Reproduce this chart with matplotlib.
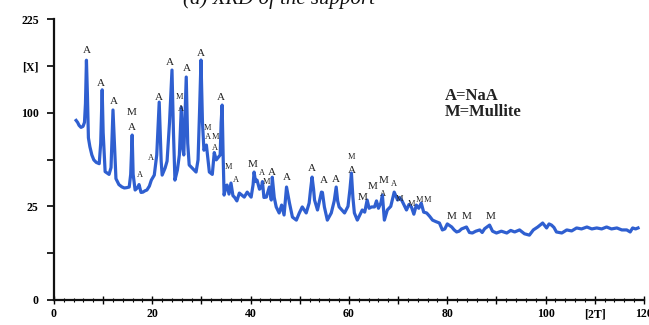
import numpy as np
from matplotlib import pyplot as plt

# --- data (2theta in degrees, intensity in counts) ---
two_theta = [
    4.5, 4.8, 5.1, 5.5, 5.9, 6.2, 6.4, 6.6, 6.8, 7.0, 7.3, 7.7, 8.1, 8.6, 9.2, 9.5, 9.8, 10.0,
    10.4, 10.8, 11.2, 11.6, 12.0, 12.3, 12.6, 13.2, 13.8, 14.3, 14.8, 15.3, 15.6, 15.9, 16.1,
    16.5, 17.0, 17.3, 17.7, 18.1, 18.5, 18.9, 19.4, 19.8, 20.4, 20.9, 21.4, 21.8, 22.0, 22.6,
    23.0, 23.5, 24.0, 24.3, 24.6, 25.1, 25.5, 25.9, 26.2, 26.4, 26.9, 27.2, 27.5, 28.1, 28.9,
    29.3, 29.6, 29.9, 30.2, 30.5, 31.0, 31.6, 32.2, 32.6, 33.0, 33.4, 33.8, 34.0, 34.2, 34.4,
    34.6, 35.0, 35.2, 35.6, 36.0, 36.4, 36.7, 37.2, 37.7, 38.7, 39.3, 40.1, 40.5, 40.7, 41.0,
    41.3, 41.8, 42.2, 42.4, 42.7, 43.2, 43.8, 44.2, 44.4, 44.8, 45.2, 45.8, 46.3, 46.8, 47.3,
    47.9, 48.5, 49.3, 49.9, 50.5, 51.3, 51.9, 52.2, 52.5, 52.8, 53.0, 53.6, 54.0, 54.4, 54.6,
    55.0, 55.6, 56.4, 57.0, 57.4, 57.7, 58.0, 59.1, 59.8, 60.2, 60.5, 60.8, 61.1, 61.7, 62.7,
    63.2, 63.7, 64.1, 64.6, 65.2, 65.6, 66.0, 66.5, 66.8, 67.2, 67.8, 68.5, 69.2, 69.9, 70.3,
    70.8, 71.7, 72.2, 72.7, 73.2, 73.7, 74.2, 74.7, 75.2, 75.8, 76.4, 77.0, 77.7, 78.4, 79.0,
    79.5, 80.0, 80.9, 81.4, 81.9, 82.4, 82.9, 83.9, 84.5, 85.1, 85.8, 86.6, 87.1, 87.6, 88.6,
    89.2, 90.0, 91.0, 92.1, 92.9, 93.7, 94.7, 95.7, 96.7, 97.5, 98.4, 99.4, 100.2, 100.7,
    101.2, 101.7, 102.2, 103.3, 104.3, 105.3, 106.3, 107.3, 108.4, 109.4, 110.4, 111.4, 112.4,
    113.4, 114.5, 115.5, 116.5, 117.2, 117.7, 118.3, 118.8,
]
intensity = [
    92, 90, 87, 85, 86, 90, 110, 164, 120, 75, 67, 60, 56, 54, 53, 70, 126, 80,
    47, 46, 45, 50, 103, 70, 42, 38, 36.5, 35.8, 36, 36.4, 45, 77.6, 45,
    34.5, 36, 38, 33, 33.2, 34, 34.5, 37, 41, 44.5, 60, 111.7, 55, 44.5, 49.7,
    55, 90, 150.8, 80, 41, 48.2, 60, 106, 65, 60, 141.8, 70, 52, 49.7, 46.7,
    56, 100, 164.2, 90, 64, 68.5, 46.7, 45, 62, 56, 58, 60, 90, 108.4, 60,
    31.4, 37, 37.7, 32, 39, 31, 30.2, 28, 32.6, 30.2, 33.2, 30.2, 38, 46.7, 40,
    41, 35, 36.4, 40, 30, 30.2, 36.4, 28.5, 43, 30, 24.7, 21.6, 25.7, 20.6, 36.4,
    26.8, 19.6, 18.2, 21.6, 24.7, 21.6, 26.8, 35, 43.1, 35, 28.5, 23.1, 28, 33.2, 33,
    24.7, 18.2, 21.6, 28, 36.4, 28, 24.7, 21.6, 25, 35, 46, 30, 21.6, 18.2, 23.1,
    22, 28.5, 24, 24.7, 24.7, 28, 24, 27, 31.4, 18.2, 23.1, 25, 33.2, 28.5, 30,
    28, 23.1, 26, 24.7, 21, 25.7, 24, 26.8, 22, 21.6, 20, 18.2, 17.5, 16.9, 14.0,
    14.4, 16.5, 15.2, 14.0, 13.2, 13.5, 14.4, 15.2, 13, 12.8, 13.5, 14.0, 13.0, 14.5, 16.0,
    13.5, 12.8, 13.5, 12.8, 13.8, 13.2, 14.0, 12.5, 12.0, 14, 15.2, 16.9, 14.8, 16.5,
    16.0, 15, 13.2, 12.8, 14.0, 13.6, 14.8, 14.4, 15.2, 14.4, 14.8, 14.4, 15.2,
    14.4, 14.8, 14.0, 14.0, 13.2, 14.8, 14.4, 14.8,
]

# phase labels: (2theta, intensity, text, small?)
peak_labels = [
    (6.7, 178, "A", False), (9.6, 134, "A", False), (12.2, 112, "A", False),
    (15.7, 100.7, "M", False), (15.9, 85.3, "A", False), (17.5, 44.5, "A", True),
    (19.8, 57.5, "A", True), (21.4, 117.5, "A", False), (23.6, 161.5, "A", False),
    (25.5, 117.5, "M", True), (25.9, 104, "A", True), (27.1, 153.4, "A", False),
    (29.9, 173.9, "A", False), (31.2, 84.3, "M", True), (31.4, 75.7, "A", True),
    (32.8, 75.7, "M", True), (32.8, 65.9, "A", True), (34.0, 117.5, "A", False),
    (35.4, 50.4, "M", True), (37.1, 41, "A", True), (40.5, 52, "M", False),
    (42.2, 46, "A", True), (43.2, 39.7, "M", True), (44.4, 46.7, "A", False),
    (47.3, 43.1, "A", False), (52.5, 49.7, "A", False), (54.8, 40.4, "A", False),
    (57.4, 41.7, "A", False), (60.5, 58.3, "M", True), (60.5, 48.2, "A", False),
    (62.7, 30.2, "M", False), (64.8, 37, "M", False), (67.0, 41, "M", False),
    (67.0, 32, "A", True), (69.2, 38.4, "A", True), (70.3, 29.1, "M", True),
    (72.7, 26.3, "M", True), (74.3, 28.5, "M", True), (75.9, 28.5, "M", True),
    (80.9, 20.1, "M", False), (83.9, 20.1, "M", False), (88.8, 20.1, "M", False),
]

y_ticks = [0, 6.25, 25, 56.25, 100, 156.25, 225]
y_tick_labels = ["0", "", "25", "", "100", "[X]", "225"]
x_ticks = [0, 10, 20, 30, 40, 50, 60, 70, 80, 90, 100, 110, 120]
x_tick_labels = ["0", "", "20", "", "40", "", "60", "", "80", "", "100", "[2T]", "120"]

serif = ["Liberation Serif", "DejaVu Serif"]

fig = plt.figure(figsize=(6.49, 3.25), dpi=100)
ax = fig.add_axes([0.0832, 0.077, 0.909, 0.864])

ax.plot(two_theta, intensity, color="#2f5fd0", lw=2.3, solid_joinstyle="round")

for tx, ty, txt, small in peak_labels:
    ax.text(tx, ty, txt, ha="center", va="center", family=serif,
            fontsize=6 if small else 8, color="#222222")

ax.text(0.662, 0.755, "A=NaA\nM=Mullite", transform=ax.transAxes, family=serif,
        fontsize=12, fontweight="bold", color="#222222", va="top", ha="left",
        linespacing=1.0)

ax.set_yscale("function", functions=(lambda v: np.sqrt(np.clip(v, 0, None)), np.square))
ax.set_ylim(0, 225)
ax.set_xlim(0, 120)
ax.set_yticks(y_ticks)
ax.set_yticklabels(y_tick_labels)
ax.set_xticks(x_ticks)
ax.set_xticklabels(x_tick_labels)
ax.set_xticks(np.arange(0, 121, 2), minor=True)
ax.yaxis.set_minor_locator(plt.NullLocator())

for lab in ax.get_xticklabels() + ax.get_yticklabels():
    lab.set_family(serif)
    lab.set_fontweight("bold")
    lab.set_fontsize(8.5)

ax.tick_params(axis="y", direction="out", length=5, width=1.2, pad=6)
ax.tick_params(axis="x", which="major", direction="inout", length=6, width=1.0, pad=3)
ax.tick_params(axis="x", which="minor", direction="inout", length=3, width=0.8)

for side in ["top", "right"]:
    ax.spines[side].set_visible(False)
for side in ["left", "bottom"]:
    ax.spines[side].set_linewidth(1.6)
    ax.spines[side].set_color("#111111")

# title, cut off at the top edge as in the scan
fig.text(0.43, 0.988, "(a) XRD of the support", ha="center", va="baseline",
         family=serif, style="italic", fontsize=15, color="#111111")

fig.savefig("out.png", dpi=100)
